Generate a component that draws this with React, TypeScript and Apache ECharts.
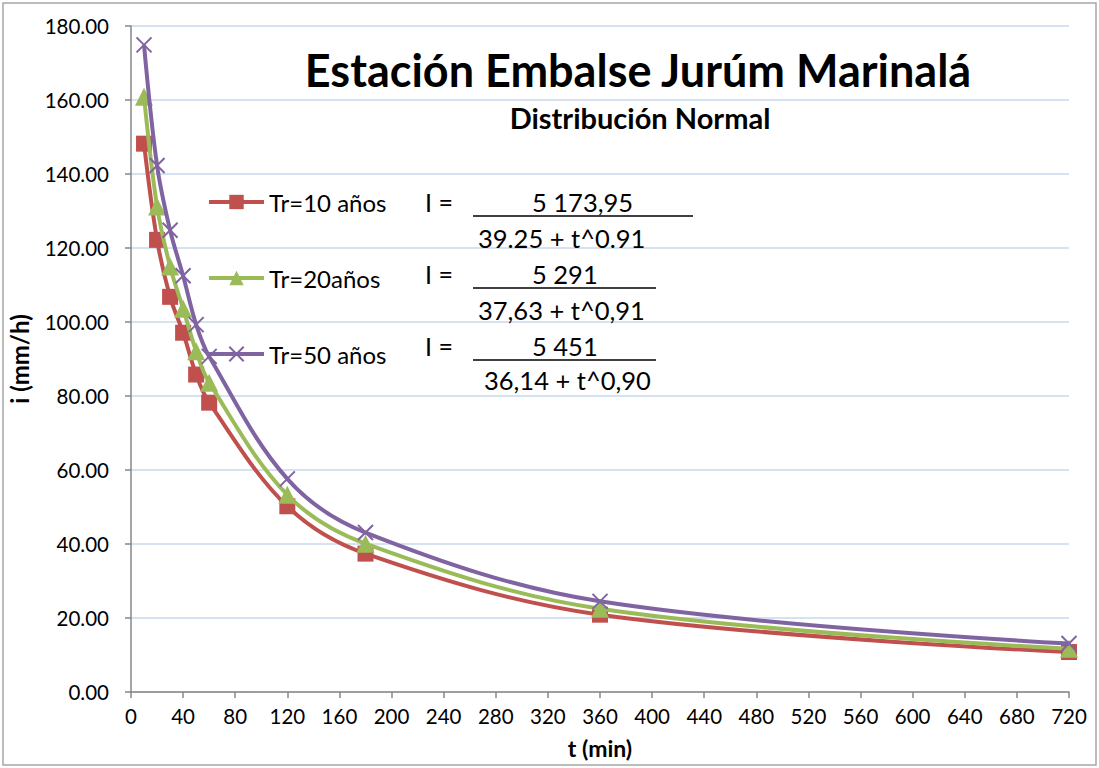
import React, { useEffect, useRef } from "react";
import * as echarts from "echarts";

const tValues = [10, 20, 30, 40, 50, 60, 120, 180, 360, 720];
const tr10 = [148.2, 122.2, 106.8, 97.1, 85.8, 78.2, 50.2, 37.4, 20.9, 10.8];
const tr20 = [160.9, 131.2, 115.0, 103.6, 92.1, 83.6, 53.3, 40.1, 22.5, 11.7];
const tr50 = [174.9, 142.3, 124.8, 112.5, 99.3, 90.7, 57.6, 43.1, 24.5, 13.1];
const seriesNames = ["Tr=10 años", "Tr=20años", "Tr=50 años"];
const titleText = "Estación Embalse Jurúm Marinalá";
const subtitleText = "Distribución Normal";
const numerators = ["5 173,95", "5 291", "5 451"];
const denominators = ["39.25 + t^0.91", "37,63 + t^0,91", "36,14 + t^0,90"];

const FONT = "Lato, 'Open Sans', sans-serif";

export default function App() {
  const ref = useRef<HTMLDivElement>(null);
  useEffect(() => {
    if (!ref.current) return;
    const chart = echarts.init(ref.current, undefined, { renderer: "svg" });
    const toPairs = (arr: number[]) => tValues.map((t, i) => [t, arr[i]]);
    const colors = ["#c0504d", "#9bbb59", "#8064a2"];
    const symbols = ["rect", "triangle", "path://M0,0L10,10M10,0L0,10"];
    const data = [tr10, tr20, tr50];

    const eqRows = [202, 274, 346];
    const denomY = [238, 310, 380];
    const denomX = [478, 478, 484];
    const lineEnd = [693, 656, 656];
    const graphics: any[] = [
      {
        type: "rect",
        shape: { x: 3, y: 3, width: 1093, height: 762 },
        style: { fill: "none", stroke: "#a6a6a6", lineWidth: 1.5 },
        silent: true,
      },
      {
        type: "text",
        x: 638,
        y: 70,
        z: 100,
        style: {
          text: titleText,
          font: `bold 45px ${FONT}`,
          fill: "#000",
          textAlign: "center",
          textVerticalAlign: "middle",
        },
      },
      {
        type: "text",
        x: 640,
        y: 117,
        z: 100,
        style: {
          text: subtitleText,
          font: `bold 29px ${FONT}`,
          fill: "#000",
          textAlign: "center",
          textVerticalAlign: "middle",
        },
      },
    ];
    for (let i = 0; i < 3; i++) {
      graphics.push({
        type: "text",
        x: 425,
        y: eqRows[i],
        z: 100,
        style: { text: "I =", font: `25px ${FONT}`, fill: "#000", textVerticalAlign: "middle" },
      });
      graphics.push({
        type: "text",
        x: 532,
        y: eqRows[i],
        z: 100,
        style: { text: numerators[i], font: `25.5px ${FONT}`, fill: "#000", textVerticalAlign: "middle" },
      });
      graphics.push({
        type: "line",
        z: 100,
        shape: { x1: 473, y1: eqRows[i] + 14, x2: lineEnd[i], y2: eqRows[i] + 14 },
        style: { stroke: "#000", lineWidth: 1.5 },
      });
      graphics.push({
        type: "text",
        x: denomX[i],
        y: denomY[i],
        z: 100,
        style: { text: denominators[i], font: `25.5px ${FONT}`, fill: "#000", textVerticalAlign: "middle" },
      });
    }

    chart.setOption({
      animation: false,
      backgroundColor: "#fff",
      grid: { left: 131, right: 30, top: 26, bottom: 76, outerBoundsMode: "none" },
      legend: {
        orient: "vertical",
        left: 207,
        top: 189,
        padding: 0,
        itemWidth: 55,
        itemHeight: 18,
        itemGap: 50,
        lineStyle: { width: 4 },
        textStyle: { fontFamily: FONT, fontSize: 24, color: "#000", lineHeight: 26 },
        data: seriesNames,
      },
      xAxis: {
        type: "value",
        min: 0,
        max: 720,
        interval: 40,
        name: "t (min)",
        nameLocation: "middle",
        nameGap: 44,
        nameTextStyle: { fontFamily: FONT, fontSize: 23, fontWeight: "bold", color: "#000" },
        axisLine: { show: true, lineStyle: { color: "#878787", width: 1.5 } },
        axisTick: { show: true, length: 6, lineStyle: { color: "#878787", width: 1.5 } },
        axisLabel: { fontFamily: FONT, fontSize: 20.5, color: "#000", margin: 13 },
        splitLine: { show: false },
      },
      yAxis: {
        type: "value",
        min: 0,
        max: 180,
        interval: 20,
        name: "i (mm/h)",
        nameLocation: "middle",
        nameGap: 100,
        nameRotate: 90,
        nameTextStyle: { fontFamily: FONT, fontSize: 24, fontWeight: "bold", color: "#000" },
        axisLine: { show: true, lineStyle: { color: "#878787", width: 1.5 } },
        axisTick: { show: true, length: 6, lineStyle: { color: "#878787", width: 1.5 } },
        axisLabel: {
          fontFamily: FONT,
          fontSize: 20.5,
          color: "#000",
          margin: 22,
          formatter: (v: number) => v.toFixed(2),
        },
        splitLine: { show: true, lineStyle: { color: "#c9d7ee", width: 1.5 } },
      },
      graphic: graphics,
      series: data.map((d, i) => ({
        name: seriesNames[i],
        type: "line",
        smooth: 0.35,
        data: toPairs(d),
        symbol: symbols[i],
        symbolSize: i === 2 ? 15 : i === 1 ? 18 : 16,
        showSymbol: true,
        lineStyle: { color: colors[i], width: 4 },
        itemStyle: {
          color: colors[i],
          borderColor: colors[i],
          borderWidth: i === 2 ? 2 : 0,
        },
        z: 3 + i,
      })),
    });
    return () => chart.dispose();
  }, []);
  return (
    <div
      ref={ref}
      style={{ position: "fixed", left: 0, top: 0, width: 1099, height: 768 }}
    />
  );
}
